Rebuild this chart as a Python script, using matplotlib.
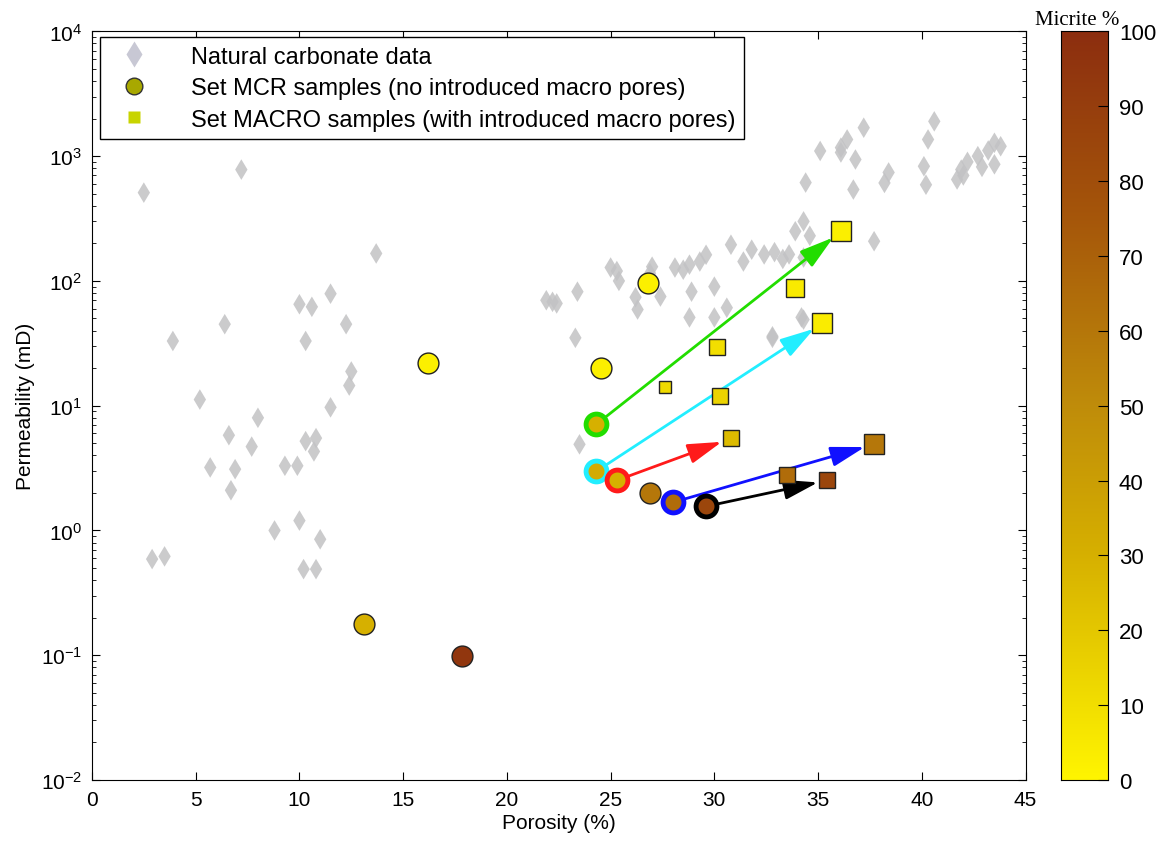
import numpy as np
import matplotlib
matplotlib.use("Agg")
import matplotlib.pyplot as plt
from matplotlib.colors import LinearSegmentedColormap
from matplotlib.lines import Line2D

plt.rcParams['font.family'] = ['Liberation Sans', 'DejaVu Sans']

# natural carbonate data (porosity %, permeability mD)
nat_phi = [2.5, 7.2, 3.9, 13.7, 11.5, 10.0, 10.6, 10.3, 6.4, 12.25, 5.2, 12.5, 12.4,
           11.5, 8.0, 7.7, 6.6, 5.7, 6.9, 6.7, 10.3, 10.7, 10.8, 9.3, 9.9, 8.8, 10.0,
           11.0, 10.2, 10.8, 2.9, 3.5,
           22.2, 21.9, 22.4, 23.4, 23.3, 23.5, 25.0, 25.3, 25.4, 26.2, 26.3, 27.4,
           28.1, 28.5, 28.8, 28.9, 28.8, 29.3, 29.6, 30.0, 30.0, 30.6, 30.8, 31.4,
           31.8, 32.4, 32.8, 33.6, 34.2, 34.3, 34.3, 33.9, 34.6, 32.9, 33.3, 37.7,
           34.4, 35.1, 36.1, 36.4, 36.1, 36.8, 37.2, 36.7, 38.2, 38.4, 40.1, 40.2,
           40.3, 40.6, 41.9, 41.7, 42.2, 42.7, 43.2, 43.5, 43.8, 42.9, 43.5, 42.0,
           32.8, 34.3, 27.0, 26.9]
nat_k = [510, 780, 33, 166, 79, 65, 62, 33, 45, 45, 11.2, 18.8, 14.5,
         9.7, 8.0, 4.7, 5.8, 3.2, 3.1, 2.1, 5.2, 4.3, 5.5, 3.3, 3.3, 1.0, 1.2,
         0.85, 0.49, 0.49, 0.59, 0.62,
         68, 70, 66, 82, 35, 4.9, 128, 120, 100, 74, 59, 75,
         128, 123, 135, 82, 51, 143, 162, 90, 51, 61, 195, 143,
         178, 163, 36, 163, 51, 154, 300, 250, 230, 170, 150, 208,
         614, 1100, 1170, 1360, 1070, 940, 1690, 540, 610, 740, 830, 590,
         1360, 1900, 780, 650, 900, 1000, 1110, 1280, 1200, 820, 860, 700,
         35, 49, 130, 115]

# Set MCR samples (circles)
mcr_phi = [26.8, 16.2, 24.55, 24.3, 24.3, 25.3, 26.9, 28.0, 29.6, 13.1, 17.85]
mcr_k = [97, 21.8, 19.9, 7.07, 2.97, 2.52, 1.98, 1.68, 1.56, 0.177, 0.098]
mcr_mic = [2, 2, 3, 30, 33, 30, 60, 65, 85, 30, 95]
mcr_ring = [None, None, None, '#22dd00', '#22eeff', '#ff1a1a', None, '#1010ff', '#000000', None, None]

# Set MACRO samples (squares)
mac_phi = [36.1, 33.9, 35.2, 30.15, 27.6, 30.25, 30.8, 37.7, 33.5, 35.45]
mac_k = [249, 88, 45.6, 29.3, 14.0, 11.9, 5.46, 4.9, 2.76, 2.52]
mac_mic = [3, 5, 4, 10, 12, 15, 25, 60, 65, 85]
mac_size = [15, 13, 14, 12, 8, 12, 12, 14, 12, 12]

# arrows: (mcr index, macro index, colour)
arrows = [(3, 0, '#22dd00'), (4, 2, '#22eeff'), (5, 6, '#ff1a1a'),
          (7, 7, '#1010ff'), (8, 9, '#000000')]

cmap = LinearSegmentedColormap.from_list('micrite', [
    (0.0, (1.0, 0.96, 0.0)),
    (0.3, (0.84, 0.69, 0.0)),
    (0.5, (0.75, 0.55, 0.04)),
    (0.75, (0.65, 0.34, 0.04)),
    (1.0, (0.55, 0.18, 0.06))])

fig = plt.figure(figsize=(11.67, 8.45), dpi=100)
ax = fig.add_axes([0.0788, 0.0757, 0.800, 0.886])
cax = fig.add_axes([0.909, 0.0757, 0.0403, 0.886])

ax.set_yscale('log')
ax.set_xlim(0, 45)
ax.set_ylim(1e-2, 1e4)

ax.scatter(nat_phi, nat_k, marker='d', s=110, c='#c2c2c4', edgecolors='none',
           alpha=0.85, zorder=1)

for i, j, col in arrows:
    ax.annotate('', xy=(mac_phi[j], mac_k[j]), xytext=(mcr_phi[i], mcr_k[i]),
                arrowprops=dict(arrowstyle='-|>,head_length=1.3,head_width=0.38',
                                color=col, lw=2.0, shrinkA=6, shrinkB=7,
                                mutation_scale=16), zorder=3)

for p, k, m, r in zip(mcr_phi, mcr_k, mcr_mic, mcr_ring):
    if r is None:
        ax.plot(p, k, 'o', ms=15, mfc=cmap(m / 100), mec='#222222', mew=1.0, zorder=4)
    else:
        ax.plot(p, k, 'o', ms=15, mfc=cmap(m / 100), mec=r, mew=3.5, zorder=4)

for p, k, m, sz in zip(mac_phi, mac_k, mac_mic, mac_size):
    ax.plot(p, k, 's', ms=sz, mfc=cmap(m / 100), mec='#222222', mew=1.0, zorder=4)

ax.set_xticks(np.arange(0, 46, 5))
ax.tick_params(which='both', direction='in', top=True, right=True, labelsize=15, pad=7)
ax.tick_params(which='major', length=6)
ax.tick_params(which='minor', length=3)
ax.set_xlabel('Porosity (%)', fontsize=15, labelpad=3)
ax.set_ylabel('Permeability (mD)', fontsize=15, labelpad=4)

handles = [
    Line2D([], [], marker='d', ls='none', ms=13, mfc='#c8c8d4', mec='none'),
    Line2D([], [], marker='o', ls='none', ms=12, mfc='#a8a800', mec='#333333'),
    Line2D([], [], marker='s', ls='none', ms=8, mfc='#c8d400', mec='none'),
]
labels = ['Natural carbonate data', 'Set MCR samples (no introduced macro pores)',
          'Set MACRO samples (with introduced macro pores)']
leg = ax.legend(handles, labels, loc='upper left', fontsize=17, frameon=True,
                fancybox=False, edgecolor='black', borderpad=0.35,
                handletextpad=1.3, labelspacing=0.4, handlelength=2.2,
                borderaxespad=0, bbox_to_anchor=(0.0086, 0.992), framealpha=1)
leg.get_frame().set_linewidth(1.0)

grad = np.linspace(0, 100, 256).reshape(-1, 1)
cax.imshow(grad, aspect='auto', origin='lower', cmap=cmap, extent=[0, 1, 0, 100])
cax.set_xticks([])
cax.yaxis.tick_right()
cax.set_yticks(np.arange(0, 101, 10))
cax.tick_params(direction='in', length=7, labelsize=16, right=True, left=False, pad=8)
cax.text(0.35, 100.3, 'Micrite %', ha='center', va='bottom', fontsize=15,
         family=['Liberation Serif', 'DejaVu Serif'], transform=cax.transData)

fig.savefig('out.png', dpi=100)
